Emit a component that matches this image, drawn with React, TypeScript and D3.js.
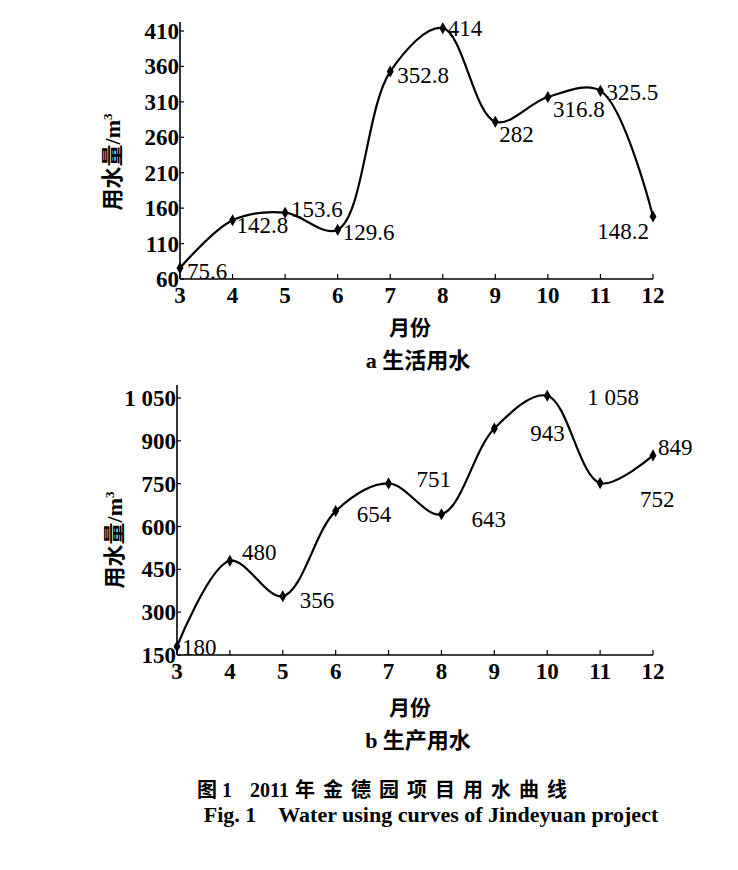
import * as d3 from "d3";

// months on the x axis
const months = [3, 4, 5, 6, 7, 8, 9, 10, 11, 12];

// a 生活用水 (m³)
const domesticValues = [75.6, 142.8, 153.6, 129.6, 352.8, 414, 282, 316.8, 325.5, 148.2];
const domesticLabels = ["75.6", "142.8", "153.6", "129.6", "352.8", "414", "282", "316.8", "325.5", "148.2"];
const domesticTicks = [60, 110, 160, 210, 260, 310, 360, 410];

// b 生产用水 (m³)
const productionValues = [180, 480, 356, 654, 751, 643, 943, 1058, 752, 849];
const productionLabels = ["180", "480", "356", "654", "751", "643", "943", "1 058", "752", "849"];
const productionTicks = [150, 300, 450, 600, 750, 900, 1050];
const productionTickText = ["150", "300", "450", "600", "750", "900", "1 050"];

// label placement relative to each point (dx, dy, anchor)
const domesticOffsets: [number, number, string][] = [
  [7, 11, "start"], [4, 13, "start"], [6, 4, "start"], [5, 10, "start"], [7, 11, "start"],
  [5, 8, "start"], [4, 20, "start"], [5, 20, "start"], [6, 9, "start"], [-4, 22, "end"],
];
const productionOffsets: [number, number, string][] = [
  [5, 9, "start"], [12, -1, "start"], [17, 12, "start"], [21, 11, "start"], [28, 4, "start"],
  [30, 13, "start"], [36, 12, "start"], [40, 9, "start"], [40, 24, "start"], [5, 0, "start"],
];

const SERIF = "'Liberation Serif', 'Times New Roman', serif";
const CJK = "'Liberation Serif', 'Noto Sans CJK SC', sans-serif";

interface PanelProps {
  values: number[];
  labels: string[];
  offsets: [number, number, string][];
  ticks: number[];
  tickText: string[];
  yMin: number;
  yMax: number;
  left: number;
  right: number;
  top: number;
  bottom: number;
  axisTop: number;
  yLabelX: number;
  yLabelY: number;
  xLabelY: number;
  caption: string;
  captionY: number;
}

function Panel(p: PanelProps) {
  const x = d3.scaleLinear().domain([3, 12]).range([p.left, p.right]);
  const y = d3.scaleLinear().domain([p.yMin, p.yMax]).range([p.bottom, p.top]);
  const pts: [number, number][] = months.map((m, i) => [x(m), y(p.values[i])]);
  const line = d3.line().curve(d3.curveCatmullRom.alpha(0.5))(pts) || "";
  const diamond = d3.symbol().type(d3.symbolDiamond).size(42)() || "";

  return (
    <g>
      {/* axes */}
      <line x1={p.left} x2={p.left} y1={p.axisTop} y2={p.bottom} stroke="#000" strokeWidth={1.6} />
      <line x1={p.left} x2={p.right} y1={p.bottom} y2={p.bottom} stroke="#000" strokeWidth={1.6} />
      {p.ticks.map((t, i) => (
        <g key={"yt" + t}>
          <line x1={p.left} x2={p.left + 4} y1={y(t)} y2={y(t)} stroke="#000" strokeWidth={1.2} />
          <text x={p.left - 1} y={y(t) + 8} textAnchor="end" fontFamily={SERIF} fontWeight="bold" fontSize={23}>
            {p.tickText[i]}
          </text>
        </g>
      ))}
      {months.map((m) => (
        <g key={"xt" + m}>
          <line x1={x(m)} x2={x(m)} y1={p.bottom} y2={p.bottom - 5} stroke="#000" strokeWidth={1.2} />
          <text x={x(m)} y={p.bottom + 24} textAnchor="middle" fontFamily={SERIF} fontWeight="bold" fontSize={23}>
            {m}
          </text>
        </g>
      ))}
      {/* curve */}
      <path d={line} fill="none" stroke="#000" strokeWidth={2.2} />
      {pts.map(([px, py], i) => (
        <g key={"pt" + i}>
          <path d={diamond} transform={`translate(${px},${py})`} fill="#000" />
          <text
            x={px + p.offsets[i][0]}
            y={py + p.offsets[i][1]}
            textAnchor={p.offsets[i][2]}
            fontFamily={SERIF}
            fontSize={23}
          >
            {p.labels[i]}
          </text>
        </g>
      ))}
      {/* axis titles */}
      <text
        transform={`translate(${p.yLabelX},${p.yLabelY}) rotate(-90)`}
        textAnchor="middle"
        fontFamily={CJK}
        fontWeight="bold"
        fontSize={22}
      >
        用水量/m<tspan fontSize={13} dy={-8}>3</tspan>
      </text>
      <text x={410} y={p.xLabelY} textAnchor="middle" fontFamily={CJK} fontWeight="bold" fontSize={21}>
        月份
      </text>
      <text x={418} y={p.captionY} textAnchor="middle" fontFamily={CJK} fontWeight="bold" fontSize={22}>
        {p.caption}
      </text>
    </g>
  );
}

export default function App() {
  return (
    <svg width={738} height={870} style={{ position: "absolute", left: 0, top: 0, background: "#fff" }}>
      <rect width={738} height={870} fill="#fff" />
      <Panel
        values={domesticValues}
        labels={domesticLabels}
        offsets={domesticOffsets}
        ticks={domesticTicks}
        tickText={domesticTicks.map(String)}
        yMin={60}
        yMax={410}
        left={180}
        right={653}
        top={31}
        bottom={279}
        axisTop={22}
        yLabelX={120}
        yLabelY={162}
        xLabelY={335}
        caption="a 生活用水"
        captionY={368}
      />
      <Panel
        values={productionValues}
        labels={productionLabels}
        offsets={productionOffsets}
        ticks={productionTicks}
        tickText={productionTickText}
        yMin={150}
        yMax={1050}
        left={177}
        right={653}
        top={398}
        bottom={655}
        axisTop={385}
        yLabelX={122}
        yLabelY={540}
        xLabelY={715}
        caption="b 生产用水"
        captionY={748}
      />
      <text y={797} fontFamily={CJK} fontWeight="bold" fontSize={20}>
        <tspan x={197}>图 1</tspan>
        <tspan x={250}>2011</tspan>
        <tspan x={295} letterSpacing={8}>年金德园项目用水曲线</tspan>
      </text>
      <text x={431} y={822} textAnchor="middle" fontFamily={SERIF} fontWeight="bold" fontSize={22}>
        Fig. 1　Water using curves of Jindeyuan project
      </text>
    </svg>
  );
}
